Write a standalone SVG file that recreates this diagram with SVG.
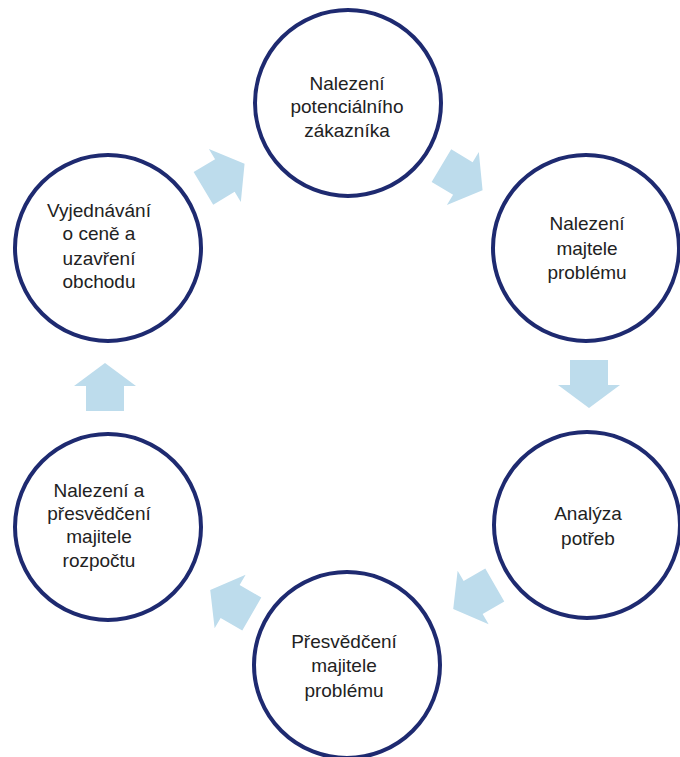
<svg xmlns="http://www.w3.org/2000/svg" width="680" height="757" viewBox="0 0 680 757">
<defs>
<style>
.c{fill:#ffffff;stroke:#1e2a70;stroke-width:4}
.t{font-family:"Liberation Sans",Arial,sans-serif;font-size:19px;fill:#222222;text-anchor:middle}
.a{fill:#bddcec}
</style>
<path id="arr" d="M-24,-19 L1,-19 L1,-31 L24,0 L1,31 L1,19 L-24,19 Z"/>
</defs>
<rect width="680" height="757" fill="#ffffff"/>
<g id="connectors">
<use href="#arr" class="a" transform="translate(224,176) rotate(-31)"/>
<use href="#arr" class="a" transform="translate(462,178) rotate(31)"/>
<use href="#arr" class="a" transform="translate(589,384) rotate(90)"/>
<use href="#arr" class="a" transform="translate(474,597) rotate(150)"/>
<use href="#arr" class="a" transform="translate(231,602) rotate(210)"/>
<use href="#arr" class="a" transform="translate(105,387) rotate(-90)"/>
</g>
<g id="node1">
<circle class="c" cx="348" cy="103" r="93"/>
<text class="t" x="347" y="90">Nalezení</text>
<text class="t" x="347" y="113">potenciálního</text>
<text class="t" x="347" y="137">zákazníka</text>
</g>
<g id="node2">
<circle class="c" cx="586" cy="248" r="93"/>
<text class="t" x="587" y="230">Nalezení</text>
<text class="t" x="587" y="255">majtele</text>
<text class="t" x="587" y="279">problému</text>
</g>
<g id="node3">
<circle class="c" cx="587" cy="525" r="93"/>
<text class="t" x="588" y="520">Analýza</text>
<text class="t" x="588" y="545">potřeb</text>
</g>
<g id="node4">
<circle class="c" cx="347" cy="665" r="93"/>
<text class="t" x="344" y="648">Přesvědčení</text>
<text class="t" x="344" y="672">majitele</text>
<text class="t" x="344" y="697">problému</text>
</g>
<g id="node5">
<circle class="c" cx="108" cy="527" r="93"/>
<text class="t" x="99" y="497">Nalezení a</text>
<text class="t" x="99" y="520">přesvědčení</text>
<text class="t" x="99" y="543">majitele</text>
<text class="t" x="99" y="567">rozpočtu</text>
</g>
<g id="node6">
<circle class="c" cx="108" cy="248" r="93"/>
<text class="t" x="99" y="217">Vyjednávání</text>
<text class="t" x="99" y="240">o ceně a</text>
<text class="t" x="99" y="265">uzavření</text>
<text class="t" x="99" y="288">obchodu</text>
</g>
</svg>
